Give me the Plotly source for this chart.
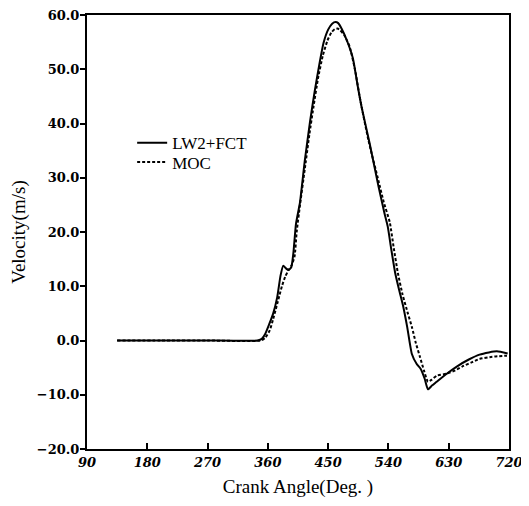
import plotly.graph_objects as go

# LW2+FCT (solid)
lw_x = [135, 200, 270, 345, 351, 356, 362, 368, 374, 379, 383, 387, 391, 395, 398, 402, 408,
        415, 423, 430, 437, 443, 450, 456, 461, 465, 470, 478, 487, 494, 500, 512, 525, 534,
        539, 544, 550, 556, 562, 568, 575, 582, 588, 594, 599, 605, 612, 625, 642, 660, 676,
        690, 702, 718]
lw_y = [0, 0, 0, 0, 0.3, 1.2, 3, 5, 8, 12, 13.8, 13.3, 13, 13.5, 16, 21.5, 25.5,
        33, 40.4, 46, 51, 54.8, 57.3, 58.4, 58.7, 58.5, 57.5, 55.3, 52, 47, 43, 36.3, 28.5, 23.5,
        21, 17, 12.5, 9.3, 6.3, 2.5, -2.5, -4.3, -5.2, -7, -9, -8.3, -7.6, -6.3, -4.8, -3.5, -2.6,
        -2.2, -2, -2.4]

# MOC (dashed)
moc_x = [135, 200, 270, 350, 356, 363, 368, 373, 377, 381, 386, 391, 396, 400, 403, 408, 415,
         422, 428, 435, 442, 449, 455, 460, 464, 468, 474, 482, 490, 497, 510, 525, 533, 542,
         548, 554, 561, 569, 575, 581, 587, 593, 599, 605, 612, 627, 640, 650, 665, 676, 695, 717]
moc_y = [0, 0, 0, 0, 0.5, 1.9, 4, 6.3, 8.2, 10, 11.8, 13, 14, 15.6, 20, 25, 31.5,
         38, 43, 48.4, 52.5, 55.3, 56.8, 57.4, 57.5, 57.2, 56.3, 54.2, 50, 45, 37, 29.5, 25.5, 21.8,
         17, 12.5, 8.5, 5, 2.5, -0.5, -3, -5.5, -7.6, -7.2, -6.5, -6.1, -5.5, -4.8, -4, -3.4, -3, -2.8]

x_ticks = [90, 180, 270, 360, 450, 540, 630, 720]
y_ticks = [-20, -10, 0, 10, 20, 30, 40, 50, 60]

fig = go.Figure()
fig.add_trace(go.Scatter(x=lw_x, y=lw_y, mode="lines", name="LW2+FCT", legend="legend",
                         line=dict(color="black", width=2, shape="spline", smoothing=0.5)))
fig.add_trace(go.Scatter(x=moc_x, y=moc_y, mode="lines", name="MOC", legend="legend2",
                         line=dict(color="black", width=2, dash="3px,2px", shape="spline", smoothing=0.5)))

legend_font = dict(family="Liberation Serif", size=17, color="black")
fig.update_layout(
    width=521, height=490,
    margin=dict(l=79, r=20, t=7, b=49),
    plot_bgcolor="white", paper_bgcolor="white",
    showlegend=True,
    legend=dict(x=0.107, y=0.746, xanchor="left", yanchor="top",
                font=legend_font, bgcolor="rgba(0,0,0,0)"),
    legend2=dict(x=0.107, y=0.702, xanchor="left", yanchor="top",
                 font=legend_font, bgcolor="rgba(0,0,0,0)"),
    xaxis=dict(range=[90, 720], tickvals=x_ticks, ticktext=[str(v) for v in x_ticks],
               ticks="inside", ticklen=6, tickwidth=2, tickcolor="black",
               showline=True, linecolor="black", linewidth=2, mirror=True,
               showgrid=False, zeroline=False, automargin=False, ticklabeloverflow="allow",
               tickfont=dict(family="DejaVu Serif", size=13, color="black", weight="bold", style="italic"),
               title=dict(text="Crank Angle(Deg. )", standoff=15,
                          font=dict(family="Liberation Serif", size=19, color="black"))),
    yaxis=dict(range=[-20, 60], tickvals=y_ticks, tickformat=".1f",
               ticks="outside", ticklen=5, tickwidth=2, tickcolor="black",
               showline=True, linecolor="black", linewidth=2, mirror=True,
               showgrid=False, zeroline=False, automargin=False, ticklabelstandoff=-2,
               ticklabeloverflow="allow",
               tickfont=dict(family="DejaVu Serif", size=13, color="black", weight="bold"),
               title=dict(text="Velocity(m/s)", standoff=12,
                          font=dict(family="Liberation Serif", size=19, color="black"))),
)

fig.write_html("out.html")
